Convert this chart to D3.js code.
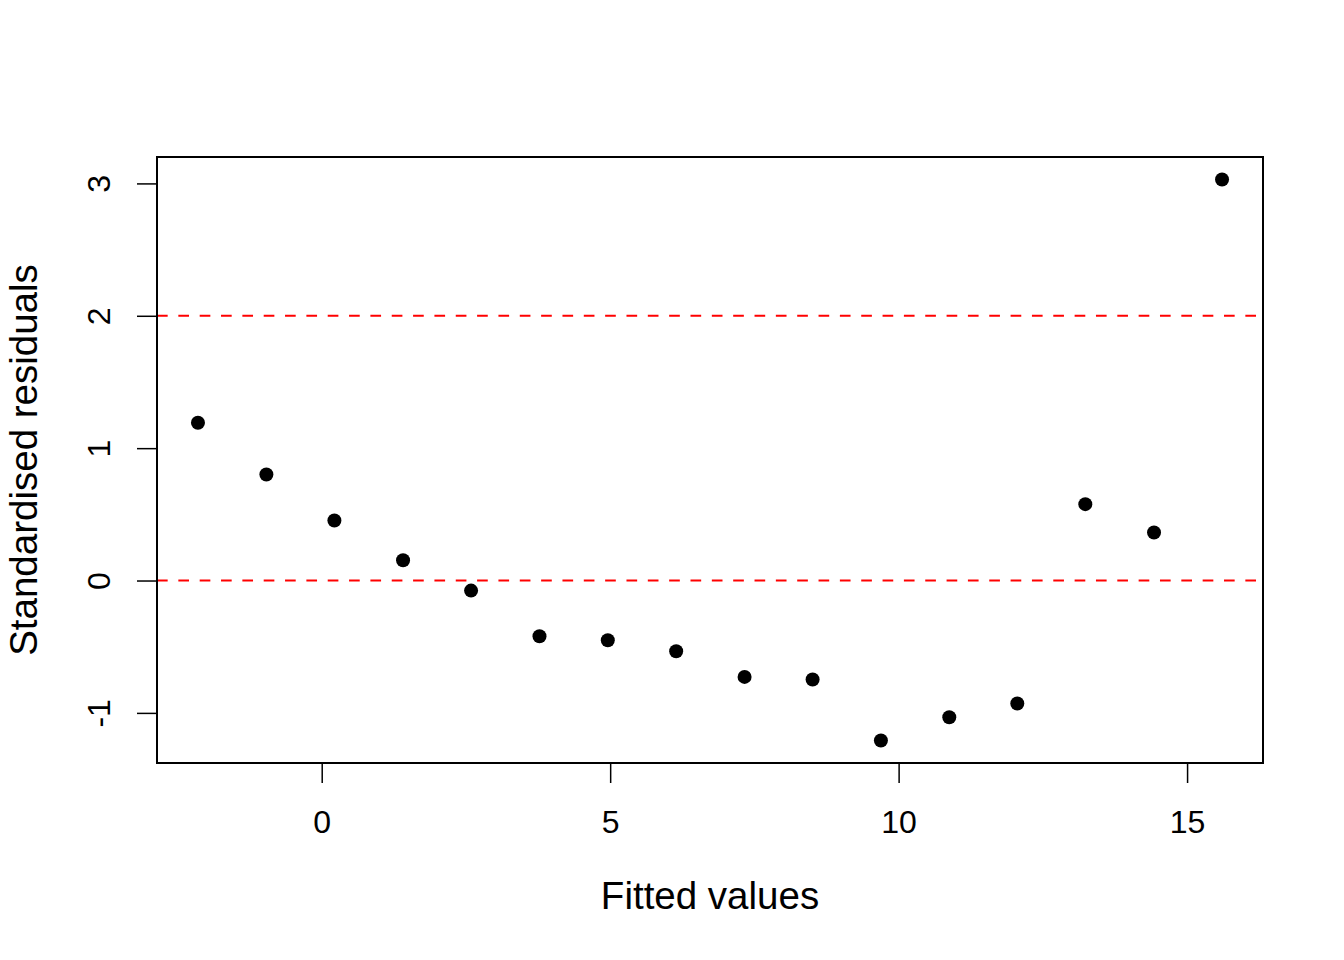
<!DOCTYPE html>
<html>
<head>
<meta charset="utf-8">
<script src="https://cdn.jsdelivr.net/npm/d3@7"></script>
<style>
  html, body { margin: 0; padding: 0; background: #fff; }
  svg text { font-family: "Liberation Sans", Arial, Helvetica, sans-serif; fill: #000; }
</style>
</head>
<body>
<div id="chart"></div>
<script>
// Fitted values vs standardised residuals
const fitted = [-2.145, -0.959, 0.220, 1.410, 2.589, 3.775, 4.959, 6.144,
                7.330, 8.509, 9.693, 10.878, 12.057, 13.236, 14.427, 15.606];
const stdResid = [1.192, 0.801, 0.453, 0.153, -0.076, -0.421, -0.451, -0.534,
                  -0.728, -0.748, -1.209, -1.033, -0.929, 0.577, 0.363, 3.030];
const xTicks = [0, 5, 10, 15];
const yTicks = [-1, 0, 1, 2, 3];
const refLines = [0, 2];

(function() {
  const W = 1344, H = 960;
  const margin = { top: 157, right: 81, bottom: 197, left: 157 };
  const width = W - margin.left - margin.right;
  const height = H - margin.top - margin.bottom;

  const svg = d3.select('#chart')
    .append('svg')
    .attr('width', W)
    .attr('height', H);

  const g = svg.append('g')
    .attr('transform', `translate(${margin.left},${margin.top})`);

  // R-style 4% padding on each side
  function padded(vals) {
    const [lo, hi] = d3.extent(vals);
    const p = (hi - lo) * 0.04;
    return [lo - p, hi + p];
  }

  const x = d3.scaleLinear().domain(padded(fitted)).range([0, width]);
  const y = d3.scaleLinear().domain(padded(stdResid)).range([height, 0]);

  g.append('defs').append('clipPath').attr('id', 'plot-clip')
    .append('rect').attr('width', width).attr('height', height);

  // plain hyphen for negatives, like R
  const fmt = d => String(d);

  // Axes
  const xAxis = g.append('g')
    .attr('transform', `translate(0,${height})`)
    .call(d3.axisBottom(x).tickValues(xTicks).tickSize(20).tickFormat(fmt));
  xAxis.select('.domain').remove();
  xAxis.selectAll('line').attr('stroke', '#000').attr('stroke-width', 1.5);
  xAxis.selectAll('text').attr('font-size', '32px').attr('dy', null).attr('y', 70);
  xAxis.append('line')
    .attr('x1', x(xTicks[0])).attr('x2', x(xTicks[xTicks.length - 1]))
    .attr('stroke', '#000').attr('stroke-width', 1.5);

  const yAxis = g.append('g')
    .call(d3.axisLeft(y).tickValues(yTicks).tickSize(20).tickFormat(fmt));
  yAxis.select('.domain').remove();
  yAxis.selectAll('line').attr('stroke', '#000').attr('stroke-width', 1.5);
  yAxis.selectAll('text')
    .attr('font-size', '32px')
    .attr('x', null).attr('dy', null)
    .attr('text-anchor', 'middle')
    .attr('transform', 'translate(-47,0) rotate(-90)');
  yAxis.append('line')
    .attr('y1', y(yTicks[0])).attr('y2', y(yTicks[yTicks.length - 1]))
    .attr('stroke', '#000').attr('stroke-width', 1.5);

  // Reference lines
  g.append('g').attr('clip-path', 'url(#plot-clip)')
    .selectAll('line')
    .data(refLines)
    .join('line')
    .attr('x1', 0).attr('x2', width)
    .attr('y1', d => y(d)).attr('y2', d => y(d))
    .attr('stroke', '#ff0000')
    .attr('stroke-width', 2)
    .attr('stroke-dasharray', '10.67,10.67');

  // Points
  g.append('g')
    .selectAll('circle')
    .data(fitted.map((f, i) => ({ f, r: stdResid[i] })))
    .join('circle')
    .attr('cx', d => x(d.f))
    .attr('cy', d => y(d.r))
    .attr('r', 7)
    .attr('fill', '#000');

  // Box
  g.append('rect')
    .attr('width', width).attr('height', height)
    .attr('fill', 'none')
    .attr('stroke', '#000')
    .attr('stroke-width', 2);

  // Axis titles
  svg.append('text')
    .attr('x', margin.left + width / 2).attr('y', 909)
    .attr('text-anchor', 'middle')
    .attr('font-size', '38.5px')
    .text('Fitted values');

  svg.append('text')
    .attr('transform', `translate(37,${margin.top + height / 2}) rotate(-90)`)
    .attr('text-anchor', 'middle')
    .attr('font-size', '38.5px')
    .text('Standardised residuals');
})();
</script>
</body>
</html>
